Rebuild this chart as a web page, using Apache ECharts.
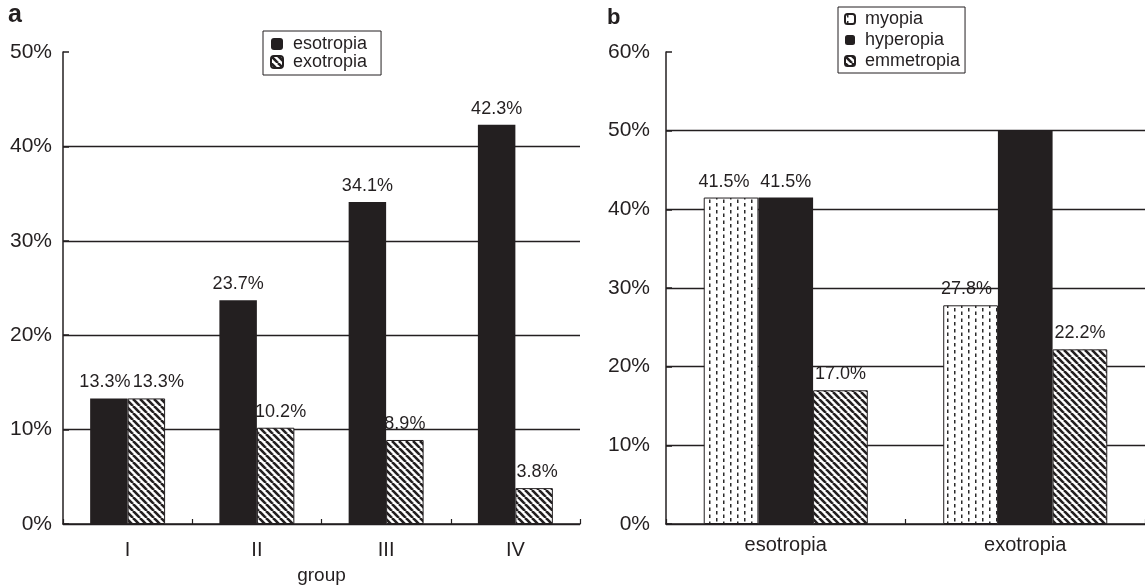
<!DOCTYPE html>
<html><head><meta charset="utf-8">
<script src="https://cdn.jsdelivr.net/npm/echarts@6/dist/echarts.min.js"></script>
<style>html,body{margin:0;padding:0;background:#fff}#c{width:1145px;height:585px}</style>
</head><body><div id="c"></div>
<script>
// Panel a
var groupsA = ['I', 'II', 'III', 'IV'];
var esotropiaA = [13.3, 23.7, 34.1, 42.3];
var exotropiaA = [13.3, 10.2, 8.9, 3.8];
var yTicksA = [0, 10, 20, 30, 40, 50];
// Panel b
var groupsB = ['esotropia', 'exotropia'];
var myopiaB = [41.5, 27.8];
var hyperopiaB = [41.5, 50.0];
var emmetropiaB = [17.0, 22.2];
var yTicksB = [0, 10, 20, 30, 40, 50, 60];

var INK = '#231f20';
var FONT = '"Liberation Sans", Arial, sans-serif';

// label tweaks (index -> horizontal nudge in px, or null to hide)
var labelTweaks = {
  esotropia: { 0: -4 },
  exotropia: { 0: 12, 1: 5, 3: 3 },
  myopia: { 0: -7, 1: -4 },
  hyperopia: { 1: null }
};

function hatch() {
  var s = 7, c = document.createElement('canvas');
  c.width = s; c.height = s;
  var g = c.getContext('2d');
  g.fillStyle = '#fff'; g.fillRect(0, 0, s, s);
  g.strokeStyle = INK; g.lineWidth = 2.6;
  for (var k = -1; k <= 1; k++) {
    g.beginPath(); g.moveTo(k * s, 0); g.lineTo(k * s + s, s); g.stroke();
  }
  return { image: c, repeat: 'repeat' };
}
function dots() {
  var w = 14, h = 7, c = document.createElement('canvas');
  c.width = w; c.height = h;
  var g = c.getContext('2d');
  g.fillStyle = '#fff'; g.fillRect(0, 0, w, h);
  g.fillStyle = '#2a2a2a';
  g.fillRect(2, 0, 1.5, 3.5);
  g.fillRect(9, 3.5, 1.5, 3.5);
  return { image: c, repeat: 'repeat' };
}

function lbl() {
  return { show: true, position: 'top', distance: 7, color: INK, fontSize: 18, fontFamily: FONT,
    formatter: function (p) { return p.value.toFixed(1) + '%'; } };
}
function withTweaks(name, values) {
  var t = labelTweaks[name] || {};
  return values.map(function (v, i) {
    if (!(i in t)) return v;
    if (t[i] === null) return { value: v, label: { show: false } };
    return { value: v, label: { offset: [t[i], 0] } };
  });
}
function gridColors(n) { var a = []; for (var i = 0; i < n - 1; i++) a.push(INK); a.push('rgba(0,0,0,0)'); return a; }

function yAxis(idx, ticks, margin) {
  return {
    type: 'value', gridIndex: idx, min: ticks[0], max: ticks[ticks.length - 1], interval: ticks[1] - ticks[0],
    axisLine: { show: true, lineStyle: { color: INK, width: 1.5 } },
    axisTick: { show: true, inside: true, length: 6, lineStyle: { color: INK, width: 1.5 } },
    axisLabel: { color: INK, fontSize: 21, fontFamily: FONT, margin: margin, formatter: '{value}%' },
    splitLine: { show: true, lineStyle: { color: gridColors(ticks.length), width: 1.3 } }
  };
}
function xAxis(idx, cats, margin, name) {
  return {
    type: 'category', gridIndex: idx, data: cats,
    name: name || '', nameLocation: 'middle', nameGap: 42,
    nameTextStyle: { color: INK, fontSize: 19, fontFamily: FONT },
    axisLine: { show: true, lineStyle: { color: INK, width: 1.5 } },
    axisTick: { show: true, inside: true, length: 5, lineStyle: { color: INK, width: 1.2 } },
    axisLabel: { color: INK, fontSize: 20, fontFamily: FONT, margin: margin }
  };
}

var chart = echarts.init(document.getElementById('c'), null, { renderer: 'canvas' });
chart.setOption({
  animation: false,
  backgroundColor: '#fff',
  title: [
    { text: 'a', left: 8, top: 3, padding: 0, textStyle: { fontSize: 25, fontWeight: 'bold', color: INK, fontFamily: FONT } },
    { text: 'b', left: 607, top: 7, padding: 0, textStyle: { fontSize: 22, fontWeight: 'bold', color: INK, fontFamily: FONT } }
  ],
  grid: [
    { left: 63, right: 565, top: 52, bottom: 61, containLabel: false, outerBoundsMode: 'none' },
    { left: 666, right: 0, top: 52, bottom: 61, containLabel: false, outerBoundsMode: 'none' }
  ],
  legend: [
    { data: ['esotropia', 'exotropia'], orient: 'vertical', left: 263, top: 31,
      itemWidth: 12, itemHeight: 12, itemGap: 0, padding: [4, 14, 4, 7],
      borderColor: INK, borderWidth: 1,
      textStyle: { color: INK, fontSize: 18, lineHeight: 18, fontFamily: FONT, padding: [0, 0, 0, 5] } },
    { data: ['myopia', 'hyperopia', 'emmetropia'], orient: 'vertical', left: 838, top: 7,
      itemWidth: 10, itemHeight: 10, itemGap: 3, padding: [3, 5, 3, 6],
      borderColor: INK, borderWidth: 1,
      textStyle: { color: INK, fontSize: 18, lineHeight: 18, fontFamily: FONT, padding: [0, 0, 0, 5] } }
  ],
  xAxis: [xAxis(0, groupsA, 16, 'group'), xAxis(1, groupsB, 11)],
  yAxis: [yAxis(0, yTicksA, 11), yAxis(1, yTicksB, 16)],
  series: [
    { name: 'esotropia', type: 'bar', xAxisIndex: 0, yAxisIndex: 0, data: withTweaks('esotropia', esotropiaA),
      barGap: '0%', barCategoryGap: '42%', itemStyle: { color: INK }, label: lbl() },
    { name: 'exotropia', type: 'bar', xAxisIndex: 0, yAxisIndex: 0, data: withTweaks('exotropia', exotropiaA),
      itemStyle: { color: hatch(), borderColor: INK, borderWidth: 1 }, label: lbl() },
    { name: 'myopia', type: 'bar', xAxisIndex: 1, yAxisIndex: 1, data: withTweaks('myopia', myopiaB),
      barGap: '0%', barCategoryGap: '31.5%', itemStyle: { color: dots(), borderColor: INK, borderWidth: 1 }, label: lbl() },
    { name: 'hyperopia', type: 'bar', xAxisIndex: 1, yAxisIndex: 1, data: withTweaks('hyperopia', hyperopiaB),
      itemStyle: { color: INK }, label: lbl() },
    { name: 'emmetropia', type: 'bar', xAxisIndex: 1, yAxisIndex: 1, data: withTweaks('emmetropia', emmetropiaB),
      itemStyle: { color: hatch(), borderColor: INK, borderWidth: 1 }, label: lbl() }
  ]
});
</script></body></html>
